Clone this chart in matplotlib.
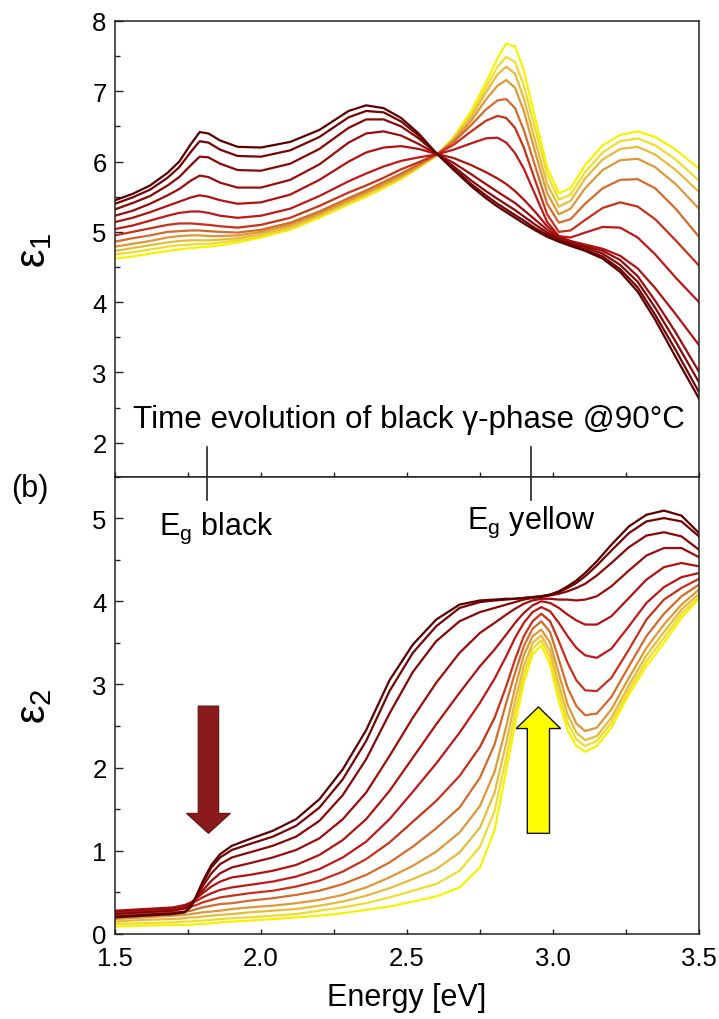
import matplotlib
matplotlib.use("Agg")
import matplotlib.pyplot as plt
from matplotlib.patches import Polygon
from matplotlib.ticker import MultipleLocator, FormatStrFormatter

plt.rcParams['font.family'] = ['Liberation Sans', 'DejaVu Sans']
plt.rcParams['mathtext.fontset'] = 'custom'
plt.rcParams['mathtext.rm'] = 'Liberation Sans'
plt.rcParams['mathtext.it'] = 'Liberation Sans'
plt.rcParams['mathtext.default'] = 'regular'

# ---------------- data: epsilon_1 (top panel) ----------------
energy_e1 = [1.50, 1.56, 1.62, 1.68, 1.72, 1.76, 1.79, 1.82, 1.86, 1.92, 2.00, 2.10, 2.20,
             2.30, 2.36, 2.42, 2.48, 2.54, 2.60, 2.66, 2.72, 2.77, 2.81, 2.84, 2.87, 2.90,
             2.94, 2.98, 3.02, 3.06, 3.11, 3.17, 3.23, 3.29, 3.35, 3.42, 3.50]
eps1_c0 = [5.45, 5.54, 5.66, 5.84, 6.00, 6.25, 6.42, 6.40, 6.30, 6.21, 6.20, 6.28, 6.45,
           6.72, 6.80, 6.76, 6.62, 6.40, 6.12, 5.88, 5.65, 5.48, 5.36, 5.28, 5.20, 5.12,
           5.02, 4.93, 4.86, 4.80, 4.73, 4.62, 4.43, 4.15, 3.75, 3.22, 2.63]
eps1_c1 = [5.40, 5.49, 5.60, 5.77, 5.92, 6.14, 6.29, 6.27, 6.17, 6.08, 6.07, 6.16, 6.35,
           6.63, 6.72, 6.70, 6.57, 6.37, 6.12, 5.90, 5.68, 5.52, 5.40, 5.32, 5.24, 5.16,
           5.05, 4.96, 4.88, 4.82, 4.75, 4.65, 4.47, 4.21, 3.82, 3.32, 2.72]
eps1_c2 = [5.32, 5.41, 5.51, 5.66, 5.78, 5.95, 6.07, 6.06, 5.97, 5.88, 5.87, 5.97, 6.18,
           6.48, 6.60, 6.60, 6.50, 6.33, 6.12, 5.93, 5.73, 5.58, 5.47, 5.39, 5.31, 5.22,
           5.10, 4.99, 4.90, 4.84, 4.78, 4.69, 4.53, 4.29, 3.92, 3.44, 2.86]
eps1_c3 = [5.23, 5.30, 5.40, 5.52, 5.61, 5.73, 5.80, 5.78, 5.70, 5.63, 5.63, 5.74, 5.96,
           6.27, 6.40, 6.43, 6.37, 6.25, 6.11, 5.98, 5.82, 5.68, 5.57, 5.49, 5.41, 5.31,
           5.17, 5.03, 4.92, 4.86, 4.80, 4.73, 4.60, 4.37, 4.02, 3.57, 3.01]
eps1_c4 = [5.14, 5.20, 5.28, 5.37, 5.43, 5.49, 5.52, 5.50, 5.45, 5.40, 5.42, 5.53, 5.74,
           6.00, 6.13, 6.20, 6.22, 6.18, 6.11, 6.05, 5.95, 5.85, 5.76, 5.68, 5.58, 5.46,
           5.28, 5.08, 4.94, 4.87, 4.82, 4.76, 4.66, 4.48, 4.20, 3.83, 3.39]
eps1_c5 = [5.04, 5.09, 5.16, 5.23, 5.27, 5.29, 5.29, 5.27, 5.23, 5.20, 5.23, 5.33, 5.51,
           5.72, 5.83, 5.93, 6.01, 6.06, 6.10, 6.17, 6.26, 6.33, 6.34, 6.27, 6.12, 5.90,
           5.52, 5.14, 4.94, 4.92, 4.99, 5.07, 5.06, 4.92, 4.68, 4.35, 4.00]
eps1_c6 = [4.95, 5.00, 5.05, 5.10, 5.12, 5.12, 5.11, 5.10, 5.08, 5.06, 5.10, 5.20, 5.37,
           5.56, 5.66, 5.77, 5.89, 5.99, 6.10, 6.24, 6.43, 6.58, 6.65, 6.62, 6.48, 6.20,
           5.72, 5.25, 5.00, 5.02, 5.17, 5.34, 5.42, 5.36, 5.18, 4.88, 4.52]
eps1_c7 = [4.86, 4.91, 4.95, 5.00, 5.01, 5.02, 5.02, 5.01, 5.00, 4.99, 5.03, 5.13, 5.29,
           5.48, 5.59, 5.71, 5.83, 5.96, 6.10, 6.28, 6.52, 6.74, 6.87, 6.89, 6.76, 6.45,
           5.92, 5.40, 5.13, 5.18, 5.40, 5.62, 5.74, 5.75, 5.62, 5.33, 4.93]
eps1_c8 = [4.79, 4.83, 4.87, 4.92, 4.94, 4.95, 4.95, 4.94, 4.94, 4.95, 5.00, 5.10, 5.26,
           5.45, 5.56, 5.68, 5.80, 5.94, 6.09, 6.30, 6.58, 6.88, 7.08, 7.16, 7.05, 6.72,
           6.12, 5.55, 5.25, 5.33, 5.62, 5.88, 6.02, 6.04, 5.92, 5.68, 5.33]
eps1_c9 = [4.73, 4.77, 4.81, 4.85, 4.87, 4.88, 4.88, 4.88, 4.89, 4.91, 4.97, 5.07, 5.24,
           5.43, 5.54, 5.66, 5.78, 5.93, 6.09, 6.32, 6.63, 6.98, 7.24, 7.35, 7.25, 6.90,
           6.28, 5.68, 5.36, 5.44, 5.76, 6.03, 6.18, 6.21, 6.10, 5.88, 5.57]
eps1_c10 = [4.68, 4.71, 4.75, 4.79, 4.81, 4.82, 4.83, 4.83, 4.85, 4.88, 4.94, 5.05, 5.22,
            5.41, 5.52, 5.64, 5.77, 5.92, 6.08, 6.33, 6.67, 7.05, 7.35, 7.49, 7.42, 7.08,
            6.45, 5.82, 5.46, 5.53, 5.85, 6.13, 6.29, 6.33, 6.23, 6.03, 5.73]
eps1_c11 = [4.62, 4.65, 4.69, 4.73, 4.75, 4.77, 4.78, 4.79, 4.81, 4.85, 4.92, 5.03, 5.20,
            5.39, 5.50, 5.62, 5.75, 5.91, 6.08, 6.35, 6.72, 7.12, 7.47, 7.68, 7.64, 7.30,
            6.60, 5.92, 5.55, 5.62, 5.95, 6.23, 6.38, 6.43, 6.35, 6.17, 5.90]

# ---------------- data: epsilon_2 (bottom panel) ----------------
energy_e2 = [1.50, 1.60, 1.70, 1.74, 1.76, 1.78, 1.80, 1.83, 1.86, 1.90, 1.96, 2.04, 2.12,
             2.20, 2.28, 2.36, 2.44, 2.52, 2.60, 2.68, 2.75, 2.80, 2.84, 2.87, 2.90, 2.93,
             2.96, 2.99, 3.02, 3.05, 3.08, 3.11, 3.15, 3.20, 3.26, 3.32, 3.38, 3.44, 3.50]
eps2_c0 = [0.20, 0.22, 0.24, 0.26, 0.33, 0.47, 0.63, 0.83, 0.96, 1.06, 1.14, 1.24, 1.38,
           1.62, 1.98, 2.45, 3.05, 3.48, 3.78, 3.96, 4.01, 4.02, 4.03, 4.03, 4.04, 4.05,
           4.06, 4.08, 4.12, 4.18, 4.25, 4.34, 4.48, 4.68, 4.90, 5.04, 5.09, 5.03, 4.82]
eps2_c1 = [0.21, 0.23, 0.25, 0.27, 0.33, 0.46, 0.61, 0.80, 0.92, 1.01, 1.08, 1.17, 1.30,
           1.52, 1.86, 2.32, 2.92, 3.38, 3.70, 3.92, 3.99, 4.01, 4.02, 4.03, 4.04, 4.05,
           4.06, 4.08, 4.11, 4.16, 4.22, 4.30, 4.43, 4.61, 4.82, 4.96, 5.00, 4.96, 4.78]
eps2_c2 = [0.24, 0.26, 0.28, 0.31, 0.35, 0.45, 0.57, 0.73, 0.84, 0.92, 0.98, 1.06, 1.17,
           1.36, 1.67, 2.10, 2.65, 3.15, 3.52, 3.76, 3.87, 3.92, 3.96, 3.99, 4.02, 4.04,
           4.05, 4.07, 4.09, 4.12, 4.16, 4.21, 4.31, 4.46, 4.65, 4.79, 4.83, 4.78, 4.62]
eps2_c3 = [0.27, 0.29, 0.31, 0.34, 0.37, 0.44, 0.52, 0.64, 0.73, 0.80, 0.85, 0.92, 1.01,
           1.15, 1.38, 1.70, 2.14, 2.60, 3.02, 3.38, 3.62, 3.74, 3.84, 3.91, 3.97, 4.01,
           4.03, 4.03, 4.02, 4.02, 4.01, 4.02, 4.06, 4.18, 4.37, 4.55, 4.64, 4.64, 4.53]
eps2_c4 = [0.28, 0.30, 0.32, 0.35, 0.38, 0.43, 0.49, 0.57, 0.63, 0.68, 0.71, 0.76, 0.83,
           0.95, 1.13, 1.38, 1.72, 2.12, 2.52, 2.90, 3.22, 3.42, 3.60, 3.74, 3.86, 3.95,
           4.00, 3.98, 3.92, 3.84, 3.77, 3.72, 3.72, 3.82, 4.04, 4.26, 4.41, 4.46, 4.42]
eps2_c5 = [0.27, 0.29, 0.31, 0.34, 0.36, 0.40, 0.44, 0.49, 0.53, 0.56, 0.59, 0.63, 0.69,
           0.78, 0.92, 1.11, 1.38, 1.71, 2.05, 2.42, 2.78, 3.07, 3.34, 3.56, 3.74, 3.87,
           3.93, 3.88, 3.74, 3.58, 3.44, 3.35, 3.32, 3.43, 3.70, 3.98, 4.17, 4.29, 4.34]
eps2_c6 = [0.25, 0.27, 0.29, 0.31, 0.33, 0.35, 0.38, 0.41, 0.44, 0.46, 0.49, 0.52, 0.57,
           0.64, 0.75, 0.90, 1.10, 1.35, 1.60, 1.90, 2.25, 2.60, 2.98, 3.30, 3.58, 3.76,
           3.85, 3.76, 3.52, 3.26, 3.05, 2.93, 2.92, 3.08, 3.42, 3.78, 4.02, 4.16, 4.27]
eps2_c7 = [0.22, 0.24, 0.26, 0.27, 0.28, 0.30, 0.32, 0.34, 0.36, 0.37, 0.40, 0.43, 0.47,
           0.52, 0.60, 0.71, 0.86, 1.05, 1.27, 1.52, 1.88, 2.28, 2.78, 3.14, 3.46, 3.67,
           3.76, 3.63, 3.30, 2.96, 2.74, 2.63, 2.65, 2.85, 3.22, 3.58, 3.85, 4.06, 4.20]
eps2_c8 = [0.18, 0.20, 0.22, 0.23, 0.24, 0.25, 0.26, 0.27, 0.28, 0.30, 0.32, 0.34, 0.37,
           0.41, 0.47, 0.56, 0.68, 0.82, 0.99, 1.22, 1.54, 1.95, 2.50, 2.96, 3.35, 3.58,
           3.66, 3.50, 3.13, 2.76, 2.53, 2.44, 2.48, 2.70, 3.08, 3.44, 3.72, 3.96, 4.14]
eps2_c9 = [0.15, 0.17, 0.18, 0.19, 0.20, 0.20, 0.21, 0.22, 0.23, 0.24, 0.26, 0.28, 0.30,
           0.34, 0.39, 0.46, 0.55, 0.66, 0.78, 0.98, 1.28, 1.70, 2.30, 2.80, 3.22, 3.50,
           3.59, 3.40, 3.00, 2.64, 2.42, 2.33, 2.38, 2.60, 2.99, 3.35, 3.63, 3.90, 4.09]
eps2_c10 = [0.12, 0.13, 0.14, 0.15, 0.15, 0.16, 0.16, 0.17, 0.18, 0.19, 0.20, 0.22, 0.24,
            0.28, 0.32, 0.37, 0.44, 0.52, 0.60, 0.76, 1.05, 1.48, 2.12, 2.66, 3.12, 3.43,
            3.53, 3.32, 2.90, 2.54, 2.34, 2.26, 2.32, 2.54, 2.93, 3.28, 3.56, 3.85, 4.05]
eps2_c11 = [0.09, 0.10, 0.11, 0.11, 0.11, 0.12, 0.12, 0.13, 0.14, 0.15, 0.16, 0.18, 0.20,
            0.22, 0.25, 0.29, 0.33, 0.39, 0.45, 0.56, 0.80, 1.25, 1.97, 2.52, 3.02, 3.36,
            3.47, 3.24, 2.80, 2.45, 2.26, 2.19, 2.26, 2.48, 2.88, 3.22, 3.50, 3.80, 4.03]

eps1_curves = [eps1_c0, eps1_c1, eps1_c2, eps1_c3, eps1_c4, eps1_c5,
               eps1_c6, eps1_c7, eps1_c8, eps1_c9, eps1_c10, eps1_c11]
eps2_curves = [eps2_c0, eps2_c1, eps2_c2, eps2_c3, eps2_c4, eps2_c5,
               eps2_c6, eps2_c7, eps2_c8, eps2_c9, eps2_c10, eps2_c11]

curve_colors = ['#5a0000', '#740404', '#880808', '#9c0c0c', '#b01212', '#c01818',
                '#c8301c', '#d46a2c', '#de9838', '#e6bc3c', '#eedc30', '#f6f200']

x_ticks = [1.5, 2.0, 2.5, 3.0, 3.5]
eg_black = 1.815
eg_yellow = 2.925
annotation_text = "Time evolution of black \u03b3-phase @90\u00b0C"

# ---------------- figure ----------------
W, H = 719, 1020
fig = plt.figure(figsize=(W / 100, H / 100), dpi=100)
left, right = 115 / W, 699 / W
top_y, mid_y, bot_y = 22, 477.5, 935
ax1 = fig.add_axes([left, 1 - mid_y / H, right - left, (mid_y - top_y) / H])
ax2 = fig.add_axes([left, 1 - bot_y / H, right - left, (bot_y - mid_y) / H])

for c, y, col in zip(range(12), eps1_curves, curve_colors):
    ax1.plot(energy_e1, y, color=col, lw=1.6, zorder=2 + (11 - c) * 0.01,
             solid_joinstyle='round')
for c, y, col in zip(range(12), eps2_curves, curve_colors):
    ax2.plot(energy_e2, y, color=col, lw=1.6, zorder=2 + (11 - c) * 0.01,
             solid_joinstyle='round')

ax1.set_xlim(1.5, 3.5)
ax2.set_xlim(1.5, 3.5)
ax1.set_ylim(1.52, 8.0)
ax2.set_ylim(0.0, 5.5)

tick_fs = 18.5
spine_col = '#222222'
for ax in (ax1, ax2):
    for s in ax.spines.values():
        s.set_linewidth(1.1)
        s.set_color(spine_col)
    ax.xaxis.set_major_locator(MultipleLocator(0.5))
    ax.xaxis.set_minor_locator(MultipleLocator(0.25))
    ax.yaxis.set_major_locator(MultipleLocator(1))
    ax.yaxis.set_minor_locator(MultipleLocator(0.5))
    ax.tick_params(axis='y', which='major', direction='in', length=6, width=1.0,
                   left=True, right=False, labelsize=tick_fs, pad=6, color=spine_col)
    ax.tick_params(axis='y', which='minor', direction='in', length=3.5, width=1.0,
                   left=True, right=False, color=spine_col)
    ax.tick_params(axis='x', which='both', direction='in', length=3.5, width=1.0,
                   top=False, bottom=True, labelsize=tick_fs, pad=9, color=spine_col)

ax1.tick_params(axis='x', labelbottom=False)
ax2.set_xticks(x_ticks)
ax2.xaxis.set_major_formatter(FormatStrFormatter('%.1f'))

ax1.set_ylabel('\u03b5$_1$', fontsize=30)
ax2.set_ylabel('\u03b5$_2$', fontsize=30)
ax1.yaxis.set_label_coords(-0.105, 0.5)
ax2.yaxis.set_label_coords(-0.105, 0.5)
ax2.set_xlabel('Energy [eV]', fontsize=22, labelpad=8)

# annotation in top panel
ax1.text(1.562, 2.23, annotation_text, fontsize=22.6, ha='left', va='baseline')

# band-gap markers crossing the panel boundary
for e in (eg_black, eg_yellow):
    ax1.axvline(e, ymin=0, ymax=30 / (mid_y - top_y), color='#222222', lw=1.2, clip_on=False)
    ax2.axvline(e, ymin=1 - 23 / (bot_y - mid_y), ymax=1, color='#222222', lw=1.2, clip_on=False)

ax2.text(1.846, 4.89, 'E$_{g}$ black', fontsize=22, ha='center', va='center')
ax2.text(2.925, 4.96, 'E$_{g}$ yellow', fontsize=22, ha='center', va='center')

fig.text(30 / W, 1 - 489 / H, '(b)', fontsize=22, ha='center', va='center')

# arrows
def vertical_arrow(ax, xc, y_tail, y_head_base, y_tip, shaft_hw, head_hw, face, edge, lw):
    pts = [(xc - shaft_hw, y_tail), (xc + shaft_hw, y_tail), (xc + shaft_hw, y_head_base),
           (xc + head_hw, y_head_base), (xc, y_tip), (xc - head_hw, y_head_base),
           (xc - shaft_hw, y_head_base)]
    ax.add_patch(Polygon(pts, closed=True, facecolor=face, edgecolor=edge, lw=lw, zorder=5))

vertical_arrow(ax2, 1.82, 2.74, 1.45, 1.21, 0.035, 0.075, '#8b1a1a', '#5a1010', 0.8)
vertical_arrow(ax2, 2.95, 1.21, 2.47, 2.73, 0.038, 0.076, '#ffff00', '#111111', 1.0)

fig.savefig('out.png', dpi=100)
